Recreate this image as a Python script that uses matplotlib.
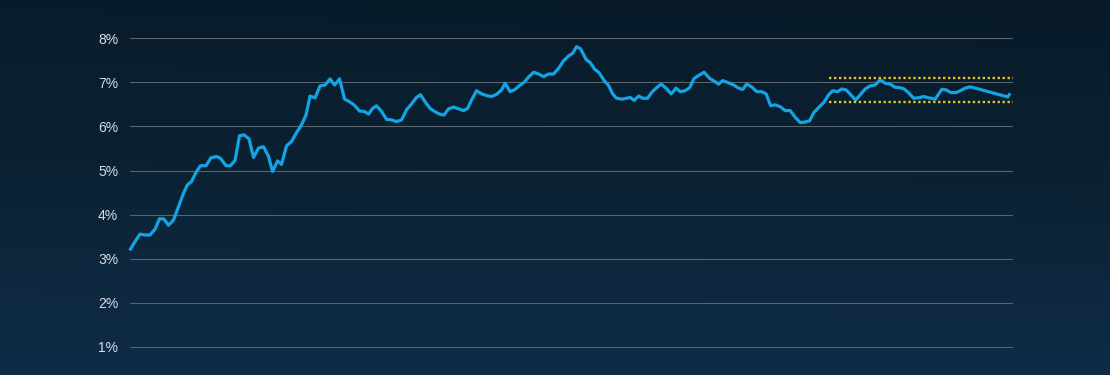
import numpy as np
import matplotlib
matplotlib.use("Agg")
import matplotlib.pyplot as plt
from matplotlib.colors import LinearSegmentedColormap

# period index (roughly one step per observation) and rate in %
periods = [0.1, 1.0, 2.0, 3.0, 4.0, 5.0, 5.9, 6.8, 7.7, 8.7, 9.7, 10.7, 11.5, 12.3, 13.3,
           14.1, 15.2, 16.2, 17.3, 18.1, 19.2, 20.1, 21.0, 21.9, 22.8, 23.8, 24.7, 25.7,
           26.7, 27.7, 28.5, 29.5, 30.3, 31.3, 32.3, 33.3, 34.3, 35.2, 36.0, 37.0, 38.0,
           39.0, 40.0, 40.9, 41.9, 42.9, 43.9, 44.8, 45.9, 46.9, 47.7, 48.5, 49.3, 50.3,
           51.3, 52.3, 53.3, 54.3, 55.3, 56.3, 57.2, 58.1, 59.0, 60.0, 60.9, 61.9, 62.8,
           63.7, 64.7, 65.7, 66.7, 67.5, 68.3, 69.3, 70.3, 71.3, 72.3, 73.3, 74.3, 75.0,
           76.0, 77.0, 77.9, 78.8, 79.7, 80.7, 81.7, 82.7, 83.7, 84.7, 85.7, 86.7, 87.7,
           88.5, 89.3, 90.1, 91.2, 92.0, 92.9, 93.8, 94.8, 95.7, 96.5, 97.3, 98.3, 99.3,
           100.0, 100.8, 101.7, 102.5, 103.5, 104.3, 105.3, 106.2, 107.2, 108.2, 109.2,
           110.0, 111.0, 111.9, 112.8, 113.9, 114.8, 115.9, 116.8, 117.7, 118.5, 119.7,
           120.7, 121.7, 122.5, 123.3, 124.3, 125.3, 126.3, 127.2, 128.1, 129.0, 130.0,
           131.0, 132.0, 133.0, 134.0, 135.0, 135.9, 136.7, 137.7, 138.7, 139.7, 140.5,
           141.5, 142.3, 143.2, 144.1, 145.1, 146.0, 147.0, 148.0, 149.0, 150.0, 151.0,
           152.0, 153.0, 154.0, 154.8, 155.8, 156.7, 157.7, 158.7, 159.7, 161.0, 162.3,
           163.2, 164.1, 165.2, 166.0, 167.0, 168.0, 169.0, 170.0, 175.5, 175.8]
rate = [3.22, 3.39, 3.56, 3.54, 3.54, 3.67, 3.91, 3.90, 3.76, 3.88, 4.18, 4.49, 4.68, 4.75, 4.98,
        5.11, 5.11, 5.29, 5.32, 5.28, 5.11, 5.11, 5.23, 5.79, 5.81, 5.72, 5.30, 5.51,
        5.54, 5.32, 4.98, 5.22, 5.14, 5.56, 5.66, 5.86, 6.04, 6.26, 6.69, 6.65, 6.92,
        6.94, 7.08, 6.94, 7.08, 6.62, 6.56, 6.49, 6.35, 6.34, 6.28, 6.41, 6.47, 6.34,
        6.16, 6.15, 6.11, 6.15, 6.38, 6.51, 6.65, 6.72, 6.56, 6.41, 6.34, 6.28, 6.26,
        6.40, 6.44, 6.40, 6.36, 6.41, 6.60, 6.81, 6.74, 6.70, 6.68, 6.73, 6.83, 6.98,
        6.79, 6.84, 6.93, 7.00, 7.12, 7.23, 7.19, 7.13, 7.19, 7.19, 7.32, 7.49, 7.60,
        7.66, 7.81, 7.76, 7.52, 7.45, 7.30, 7.22, 7.04, 6.93, 6.74, 6.64, 6.62, 6.64,
        6.66, 6.59, 6.69, 6.64, 6.64, 6.77, 6.88, 6.96, 6.87, 6.74, 6.87,
        6.79, 6.81, 6.88, 7.09, 7.17, 7.23, 7.09, 7.03, 6.96, 7.04, 6.99,
        6.94, 6.87, 6.84, 6.96, 6.90, 6.79, 6.79, 6.74, 6.47, 6.49, 6.45,
        6.36, 6.36, 6.21, 6.09, 6.10, 6.13, 6.31, 6.43, 6.54, 6.72, 6.81,
        6.79, 6.85, 6.83, 6.72, 6.60, 6.72, 6.85, 6.92, 6.94, 7.06, 6.98,
        6.96, 6.89, 6.88, 6.85, 6.75, 6.64, 6.65, 6.68, 6.65, 6.62, 6.84,
        6.83, 6.77, 6.77, 6.81, 6.87, 6.90, 6.87, 6.84, 6.67, 6.72]

band_start = 139.7
band_end = 176.5
band_high = 7.09
band_low = 6.56

yticks = [1, 2, 3, 4, 5, 6, 7, 8]
ytick_labels = ["1%", "2%", "3%", "4%", "5%", "6%", "7%", "8%"]

plt.rcParams["font.family"] = ["Liberation Sans", "DejaVu Sans"]

fig = plt.figure(figsize=(11.1, 3.75), dpi=100)

# background gradient
bg = fig.add_axes([0, 0, 1, 1], zorder=0)
bg_cmap = LinearSegmentedColormap.from_list("bg", ["#081a28", "#0b2234", "#0f2c47"])
yy = np.linspace(0, 1, 256)[:, None]
xx = np.linspace(0, 1, 256)[None, :]
grad = yy * 0.9 + (1 - xx) * 0.1 * (1 - yy)
bg.imshow(grad, cmap=bg_cmap, aspect="auto", extent=[0, 1, 0, 1], origin="upper")
bg.axis("off")

ax = fig.add_axes([130 / 1110, 0, 882.7 / 1110, 1], zorder=1)
ax.patch.set_alpha(0)
ax.set_xlim(0, 176.5)
ax.set_ylim(0.365, 8.868)

ax.set_yticks(yticks)
ax.set_yticklabels(ytick_labels)
ax.set_xticks([])
ax.tick_params(axis="y", length=0, pad=8.5, labelsize=10, labelcolor="#d8dde2")
ax.grid(axis="y", color="#59636b", linewidth=0.8)
for s in ax.spines.values():
    s.set_visible(False)

ax.plot(periods, rate, color="#14a4e4", linewidth=2.3, solid_joinstyle="round",
        zorder=3, clip_on=False)
ax.hlines([band_high, band_low], band_start, band_end, colors="#e8c325",
          linewidth=1.7, linestyles=[(0, (1, 1.1))], zorder=4)

fig.savefig("out.png", dpi=100, facecolor=fig.get_facecolor())
